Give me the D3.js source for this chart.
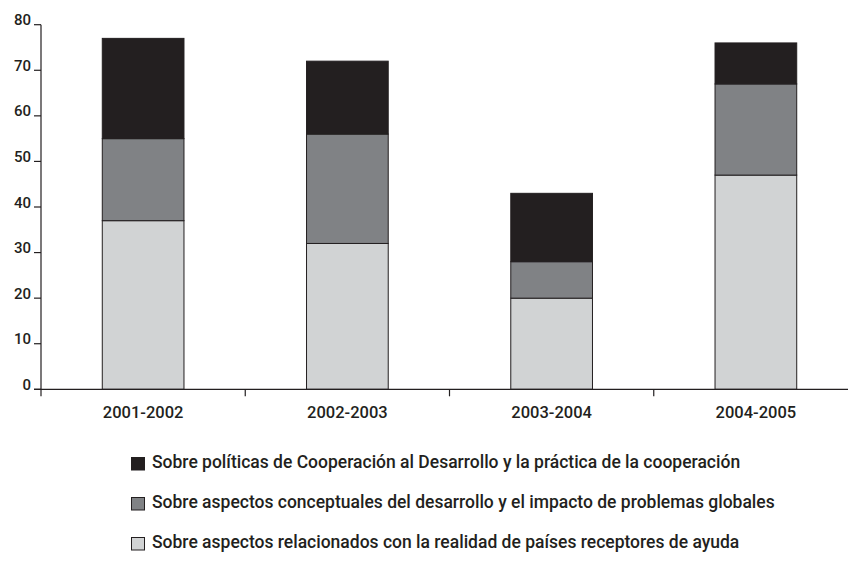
<!DOCTYPE html>
<html>
<head>
<meta charset="utf-8">
<script src="https://cdn.jsdelivr.net/npm/d3@7"></script>
<style>
  html, body { margin: 0; padding: 0; background: #ffffff; }
  svg { display: block; }
  text { font-family: Roboto, "Noto Sans", sans-serif; font-weight: 500; fill: #231f20; }
</style>
</head>
<body>
<svg id="chart" width="848" height="568"></svg>
<script>
// ---- data ----
const categories = ["2001-2002", "2002-2003", "2003-2004", "2004-2005"];
const receptores = [37, 32, 20, 47];     // light grey (bottom)
const conceptuales = [18, 24, 8, 20];    // mid grey (middle)
const politicas = [22, 16, 15, 9];       // black (top)
const yTicks = [0, 10, 20, 30, 40, 50, 60, 70, 80];
const seriesNames = [
  "Sobre políticas de Cooperación al Desarrollo y la práctica de la cooperación",
  "Sobre aspectos conceptuales del desarrollo y el impacto de problemas globales",
  "Sobre aspectos relacionados con la realidad de países receptores de ayuda"
];
const seriesKeys = ["politicas", "conceptuales", "receptores"];

// ---- layout ----
const svg = d3.select("#chart");
const axisX = 41, baseY = 389.3, topY = 24.7;
const ink = "#231f20";
const colors = { politicas: "#231f20", conceptuales: "#808285", receptores: "#d1d3d4" };

const table = categories.map((c, i) => ({
  cat: c, receptores: receptores[i], conceptuales: conceptuales[i], politicas: politicas[i]
}));
const stack = d3.stack().keys(["receptores", "conceptuales", "politicas"])(table);

const x = d3.scaleBand().domain(categories).range([axisX, 858]).padding(0);
const y = d3.scaleLinear().domain([0, 80]).range([baseY, topY]);
const barW = x.bandwidth() * 0.4;

// bars
svg.append("g").selectAll("g").data(stack).join("g")
  .attr("fill", d => colors[d.key])
  .selectAll("rect").data(d => d).join("rect")
  .attr("x", d => x(d.data.cat) + (x.bandwidth() - barW) / 2)
  .attr("width", barW)
  .attr("y", d => y(d[1]))
  .attr("height", d => y(d[0]) - y(d[1]))
  .attr("stroke", ink)
  .attr("stroke-width", 1);

// y axis
const ga = svg.append("g").attr("stroke", ink).attr("stroke-width", 1.2);
ga.append("line").attr("x1", axisX).attr("x2", axisX).attr("y1", y(80)).attr("y2", baseY + 7);
ga.selectAll("line.yt").data(yTicks).join("line").attr("class", "yt")
  .attr("x1", axisX - 7).attr("x2", axisX).attr("y1", d => y(d)).attr("y2", d => y(d));
svg.append("g").selectAll("text").data(yTicks).join("text")
  .attr("x", 31).attr("y", d => y(d) + 0.5)
  .attr("text-anchor", "end")
  .attr("font-size", 15)
  .text(d => d);

// x axis
ga.append("line").attr("x1", axisX - 7).attr("x2", 848).attr("y1", baseY).attr("y2", baseY);
ga.selectAll("line.xt").data(categories.slice(1)).join("line").attr("class", "xt")
  .attr("x1", d => x(d)).attr("x2", d => x(d)).attr("y1", baseY).attr("y2", baseY + 7);
svg.append("g").selectAll("text").data(categories).join("text")
  .attr("x", d => x(d) + x.bandwidth() / 2)
  .attr("y", 418)
  .attr("text-anchor", "middle")
  .attr("font-size", 16.5)
  .text(d => d);

// legend
const lg = svg.append("g").selectAll("g").data(seriesKeys).join("g")
  .attr("transform", (d, i) => `translate(131, ${468 + i * 40})`);
lg.append("rect").attr("x", 0.5).attr("y", -10.5).attr("width", 13).attr("height", 12.5)
  .attr("fill", d => colors[d]).attr("stroke", ink).attr("stroke-width", 1);
lg.append("text").attr("x", 21).attr("y", 0).attr("font-size", 17.5)
  .text((d, i) => seriesNames[i]);
</script>
</body>
</html>
